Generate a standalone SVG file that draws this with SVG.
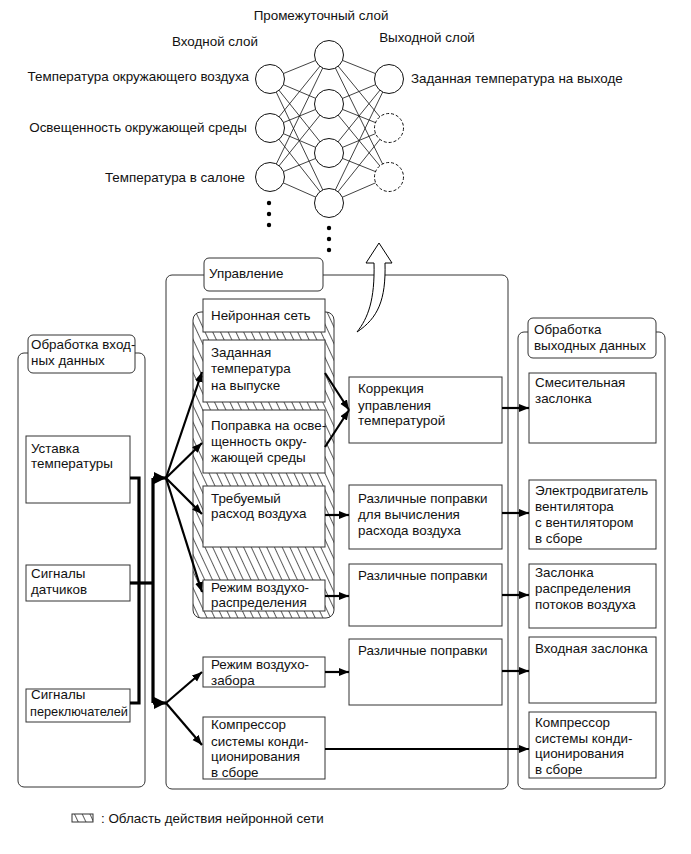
<svg xmlns="http://www.w3.org/2000/svg" width="691" height="854" viewBox="0 0 691 854">
<style>
text{font-family:"Liberation Sans",Arial,sans-serif;font-size:13.4px;fill:#111}
.box{fill:#fff;stroke:#333;stroke-width:1}
.cont{fill:none;stroke:#333;stroke-width:1}
.lbl{fill:#fff;stroke:#333;stroke-width:1}
.nn{stroke:#111;stroke-width:0.8}
.node{fill:#fff;stroke:#111;stroke-width:1}
.dash{fill:#fff;stroke:#111;stroke-width:1;stroke-dasharray:3,2}
.bus{fill:none;stroke:#000;stroke-width:3.2}
.arr{fill:none;stroke:#000;stroke-width:2.2;marker-end:url(#ah)}
.dot{fill:#000}
</style>
<defs>
<marker id="ah" markerUnits="userSpaceOnUse" markerWidth="12" markerHeight="10" refX="10" refY="4" orient="auto">
<path d="M0,0 L10,4 L0,8 Z" fill="#000"/>
</marker>
<marker id="bh" markerUnits="userSpaceOnUse" markerWidth="14" markerHeight="14" refX="12" refY="6" orient="auto">
<path d="M0,0 L12,6 L0,12 Z" fill="#000"/>
</marker>
<pattern id="hatch" patternUnits="userSpaceOnUse" width="7" height="14" patternTransform="rotate(-25)">
<rect width="7" height="14" fill="#fff"/>
<line x1="3.5" y1="0" x2="3.5" y2="14" stroke="#333" stroke-width="0.8"/>
</pattern>
</defs>

<!-- Neural network -->
<g id="neural-net">
<g class="nn">
<line x1="270" y1="79" x2="329" y2="55"/><line x1="270" y1="79" x2="329" y2="104"/><line x1="270" y1="79" x2="329" y2="153"/><line x1="270" y1="79" x2="329" y2="203"/>
<line x1="270" y1="128" x2="329" y2="55"/><line x1="270" y1="128" x2="329" y2="104"/><line x1="270" y1="128" x2="329" y2="153"/><line x1="270" y1="128" x2="329" y2="203"/>
<line x1="270" y1="177" x2="329" y2="55"/><line x1="270" y1="177" x2="329" y2="104"/><line x1="270" y1="177" x2="329" y2="153"/><line x1="270" y1="177" x2="329" y2="203"/>
<line x1="329" y1="55" x2="389" y2="79"/><line x1="329" y1="55" x2="389" y2="128"/><line x1="329" y1="55" x2="389" y2="177"/>
<line x1="329" y1="104" x2="389" y2="79"/><line x1="329" y1="104" x2="389" y2="128"/><line x1="329" y1="104" x2="389" y2="177"/>
<line x1="329" y1="153" x2="389" y2="79"/><line x1="329" y1="153" x2="389" y2="128"/><line x1="329" y1="153" x2="389" y2="177"/>
<line x1="329" y1="203" x2="389" y2="79"/><line x1="329" y1="203" x2="389" y2="128"/><line x1="329" y1="203" x2="389" y2="177"/>
</g>
<circle class="node" cx="270" cy="79" r="14.5"/>
<circle class="node" cx="270" cy="128" r="14.5"/>
<circle class="node" cx="270" cy="177" r="14.5"/>
<circle class="node" cx="329" cy="55" r="14.5"/>
<circle class="node" cx="329" cy="104" r="14.5"/>
<circle class="node" cx="329" cy="153" r="14.5"/>
<circle class="node" cx="329" cy="203" r="14.5"/>
<circle class="node" cx="389" cy="79" r="14.5"/>
<circle class="dash" cx="389" cy="128" r="14.5"/>
<circle class="dash" cx="389" cy="177" r="14.5"/>
<circle class="dot" cx="269" cy="203" r="2.2"/><circle class="dot" cx="269" cy="214" r="2.2"/><circle class="dot" cx="269" cy="225" r="2.2"/>
<circle class="dot" cx="329" cy="228" r="2.2"/><circle class="dot" cx="329" cy="239" r="2.2"/><circle class="dot" cx="329" cy="250" r="2.2"/>
<text x="321" y="20" text-anchor="middle">Промежуточный слой</text>
<text x="215" y="46" text-anchor="middle">Входной слой</text>
<text x="427" y="42" text-anchor="middle">Выходной слой</text>
<text x="249" y="81" text-anchor="end">Температура окружающего воздуха</text>
<text x="247" y="132" text-anchor="end">Освещенность окружающей среды</text>
<text x="245" y="182" text-anchor="end">Температура в салоне</text>
<text x="411" y="83">Заданная температура на выходе</text>
</g>

<!-- Containers -->
<g id="input-processing">
<rect class="cont" x="18" y="353" width="127" height="434" rx="6"/>
<rect class="lbl" x="28" y="335" width="107" height="38" rx="5"/>
<text x="31" y="349">Обработка вход-</text>
<text x="31" y="365">ных данных</text>
</g>
<g id="control">
<rect class="cont" x="166" y="275" width="342" height="514" rx="6"/>
<rect class="lbl" x="204" y="258" width="119" height="33" rx="5"/>
<text x="209" y="278">Управление</text>
</g>
<g id="output-processing">
<rect class="cont" x="518" y="332" width="147" height="457" rx="6"/>
<rect class="lbl" x="528" y="318" width="128" height="40" rx="5"/>
<text x="534" y="334">Обработка</text>
<text x="534" y="350">выходных данных</text>
</g>

<!-- Hatched neural-network region -->
<g id="nn-region">
<rect x="193" y="312" width="141" height="306" rx="8" fill="url(#hatch)" stroke="#333" stroke-width="1"/>
</g>

<!-- Curved hollow arrow -->
<g id="feedback-arrow">
<path d="M357,332 C368,318 375,300 374,263 L366,263 L379,243 L392,263 L385,263 C386,300 378,318 357,332 Z" fill="#fff" stroke="#000" stroke-width="1"/>
</g>

<!-- Left boxes -->
<g id="setpoint"><rect class="box" x="26" y="436" width="104" height="67"/><text x="31" y="453">Уставка</text><text x="31" y="468">температуры</text></g>
<g id="sensors"><rect class="box" x="26" y="565" width="104" height="36"/><text x="31" y="578">Сигналы</text><text x="31" y="594">датчиков</text></g>
<g id="switches"><rect class="box" x="26" y="689" width="104" height="33"/><text x="31" y="699">Сигналы</text><text x="30" y="716" textLength="98" lengthAdjust="spacingAndGlyphs">переключателей</text></g>

<!-- Middle-left boxes -->
<g id="nn-box"><rect class="box" x="203" y="299" width="122" height="33"/><text x="211" y="320">Нейронная сеть</text></g>
<g id="target-temp"><rect class="box" x="203" y="340" width="122" height="62"/><text x="211" y="357">Заданная</text><text x="211" y="373">температура</text><text x="211" y="390">на выпуске</text></g>
<g id="light-corr"><rect class="box" x="203" y="410" width="122" height="63"/><text x="211" y="430">Поправка на осве-</text><text x="211" y="446">щенность окру-</text><text x="211" y="462">жающей среды</text></g>
<g id="airflow"><rect class="box" x="203" y="486" width="122" height="61"/><text x="211" y="503">Требуемый</text><text x="211" y="518">расход воздуха</text></g>
<g id="distribution"><rect class="box" x="203" y="580" width="122" height="31"/><text x="211" y="592">Режим воздухо-</text><text x="211" y="607">распределения</text></g>
<g id="intake"><rect class="box" x="203" y="657" width="122" height="30"/><text x="211" y="669">Режим воздухо-</text><text x="211" y="685">забора</text></g>
<g id="compressor-ctrl"><rect class="box" x="203" y="717" width="122" height="62"/><text x="211" y="729">Компрессор</text><text x="211" y="746">системы конди-</text><text x="211" y="761">ционирования</text><text x="211" y="777">в сборе</text></g>

<!-- Middle-right boxes -->
<g id="temp-corr"><rect class="box" x="349" y="377" width="153" height="66"/><text x="358" y="393">Коррекция</text><text x="358" y="410">управления</text><text x="358" y="425">температурой</text></g>
<g id="airflow-corr"><rect class="box" x="349" y="485" width="153" height="64"/><text x="358" y="503">Различные поправки</text><text x="358" y="519">для вычисления</text><text x="358" y="535">расхода воздуха</text></g>
<g id="dist-corr"><rect class="box" x="349" y="564" width="153" height="62"/><text x="358" y="580">Различные поправки</text></g>
<g id="intake-corr"><rect class="box" x="349" y="639" width="153" height="66"/><text x="358" y="655">Различные поправки</text></g>

<!-- Right boxes -->
<g id="mix-damper"><rect class="box" x="529" y="373" width="127" height="70"/><text x="535" y="387">Смесительная</text><text x="535" y="403">заслонка</text></g>
<g id="blower"><rect class="box" x="529" y="480" width="127" height="69"/><text x="535" y="495">Электродвигатель</text><text x="535" y="511">вентилятора</text><text x="535" y="527">с вентилятором</text><text x="535" y="543">в сборе</text></g>
<g id="mode-damper"><rect class="box" x="529" y="564" width="127" height="64"/><text x="535" y="577">Заслонка</text><text x="535" y="593">распределения</text><text x="535" y="609">потоков воздуха</text></g>
<g id="intake-damper"><rect class="box" x="529" y="637" width="127" height="66"/><text x="535" y="653">Входная заслонка</text></g>
<g id="compressor-out"><rect class="box" x="529" y="712" width="127" height="66"/><text x="535" y="727">Компрессор</text><text x="535" y="743">системы конди-</text><text x="535" y="758">ционирования</text><text x="535" y="774">в сборе</text></g>

<!-- Connectors -->
<g id="connectors">
<polyline class="bus" points="130,478 139,478 139,703 130,703"/>
<line class="bus" x1="130" y1="583" x2="153" y2="583"/>
<line class="bus" x1="153" y1="478" x2="153" y2="703"/>
<line x1="153" y1="478" x2="166" y2="478" stroke="#000" stroke-width="3.2" marker-end="url(#bh)"/>
<line x1="153" y1="703" x2="166" y2="703" stroke="#000" stroke-width="3.2" marker-end="url(#bh)"/>
<line class="arr" x1="166" y1="478" x2="202" y2="372"/>
<line class="arr" x1="166" y1="478" x2="202" y2="443"/>
<line class="arr" x1="166" y1="478" x2="202" y2="514"/>
<line class="arr" x1="166" y1="478" x2="202" y2="592"/>
<line class="arr" x1="166" y1="703" x2="202" y2="672"/>
<line class="arr" x1="166" y1="703" x2="202" y2="745"/>
<line class="arr" x1="325" y1="373" x2="349" y2="410"/>
<line class="arr" x1="325" y1="447" x2="349" y2="410"/>
<line class="arr" x1="325" y1="515" x2="349" y2="515"/>
<line class="arr" x1="325" y1="596" x2="349" y2="596"/>
<line class="arr" x1="325" y1="672" x2="349" y2="672"/>
<line class="arr" x1="325" y1="749" x2="529" y2="749"/>
<line class="arr" x1="502" y1="408" x2="529" y2="408"/>
<line class="arr" x1="502" y1="513" x2="529" y2="513"/>
<line class="arr" x1="502" y1="595" x2="529" y2="595"/>
<line class="arr" x1="502" y1="671" x2="529" y2="671"/>
</g>

<!-- Legend -->
<g id="legend">
<rect x="72" y="814" width="21" height="8" fill="url(#hatch)" stroke="#333" stroke-width="1"/>
<text x="101" y="823">: Область действия нейронной сети</text>
</g>
</svg>
